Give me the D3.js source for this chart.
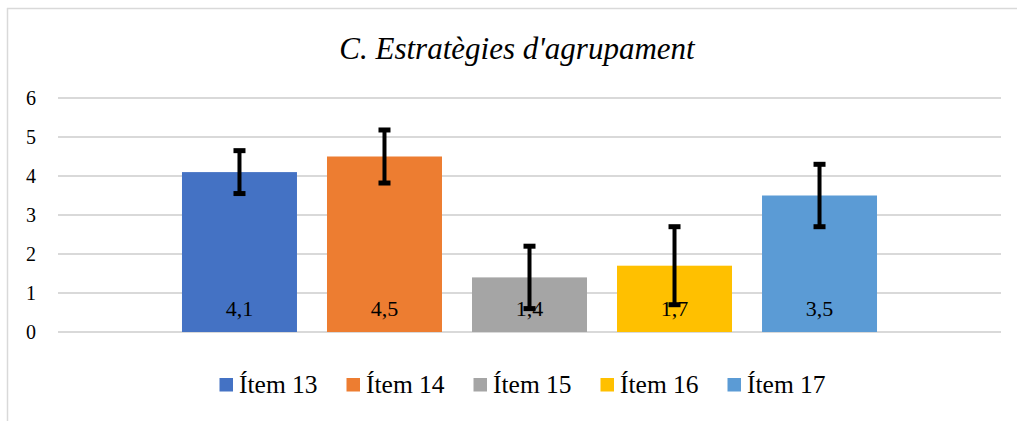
<!DOCTYPE html>
<html>
<head>
<meta charset="utf-8">
<script src="https://cdn.jsdelivr.net/npm/d3@7"></script>
<style>
  body { margin: 0; background: #fff; }
  text { font-family: "Liberation Serif", "Times New Roman", serif; fill: #000; }
</style>
</head>
<body>
<svg width="1017" height="421"></svg>
<script>
// data
var series = ["Ítem 13", "Ítem 14", "Ítem 15", "Ítem 16", "Ítem 17"];
var values = [4.1, 4.5, 1.4, 1.7, 3.5];
var errors = [0.55, 0.68, 0.8, 1.0, 0.8];
var labels = ["4,1", "4,5", "1,4", "1,7", "3,5"];
var colors = ["#4472C4", "#ED7D31", "#A5A5A5", "#FFC000", "#5B9BD5"];
var yTicks = [0, 1, 2, 3, 4, 5, 6];

var svg = d3.select("svg");

// chart border (only top and left visible)
svg.append("line").attr("x1", 7).attr("x2", 1017).attr("y1", 8.5).attr("y2", 8.5)
  .style("stroke", "#D9D9D9").style("stroke-width", 1.5);
svg.append("line").attr("x1", 7.5).attr("x2", 7.5).attr("y1", 8).attr("y2", 421)
  .style("stroke", "#D9D9D9").style("stroke-width", 1.5);

var plotL = 58, plotR = 1001, plotT = 98, plotB = 332;

var y = d3.scaleLinear().domain([0, 6]).range([plotB, plotT]);
var x = d3.scaleBand().domain(series).range([plotL, plotR])
  .paddingInner(0.207).paddingOuter(0.855);

// gridlines
svg.selectAll(".grid").data(yTicks).enter().append("line")
  .attr("x1", plotL).attr("x2", plotR)
  .attr("y1", function(d) { return y(d); })
  .attr("y2", function(d) { return y(d); })
  .style("stroke", "#D9D9D9").style("stroke-width", 2);

// y axis labels
var yAxis = svg.append("g").attr("transform", "translate(44,0)")
  .call(d3.axisLeft(y).tickValues(yTicks).tickSize(0).tickPadding(8).tickFormat(d3.format("d")));
yAxis.select(".domain").remove();
yAxis.selectAll("text").style("font-family", "Liberation Serif").style("font-size", "20px").attr("fill", "#000");

// bars
svg.selectAll(".bar").data(values).enter().append("rect")
  .attr("x", function(d, i) { return x(series[i]); })
  .attr("width", x.bandwidth())
  .attr("y", function(d) { return y(d); })
  .attr("height", function(d) { return y(0) - y(d); })
  .style("fill", function(d, i) { return colors[i]; });

// data labels (inside base)
svg.selectAll(".lbl").data(labels).enter().append("text")
  .attr("x", function(d, i) { return x(series[i]) + x.bandwidth() / 2; })
  .attr("y", plotB - 16)
  .attr("text-anchor", "middle")
  .style("font-size", "22px")
  .text(function(d) { return d; });

// error bars
var eb = svg.selectAll(".err").data(values).enter().append("g");
eb.append("line")
  .attr("x1", function(d, i) { return x(series[i]) + x.bandwidth() / 2; })
  .attr("x2", function(d, i) { return x(series[i]) + x.bandwidth() / 2; })
  .attr("y1", function(d, i) { return y(d + errors[i]); })
  .attr("y2", function(d, i) { return y(d - errors[i]); })
  .style("stroke", "#000").style("stroke-width", 4);
[1, -1].forEach(function(s) {
  eb.append("line")
    .attr("x1", function(d, i) { return x(series[i]) + x.bandwidth() / 2 - 6; })
    .attr("x2", function(d, i) { return x(series[i]) + x.bandwidth() / 2 + 6; })
    .attr("y1", function(d, i) { return y(d + s * errors[i]); })
    .attr("y2", function(d, i) { return y(d + s * errors[i]); })
    .style("stroke", "#000").style("stroke-width", 5);
});

// title
svg.append("text").attr("x", 517).attr("y", 59)
  .attr("text-anchor", "middle")
  .style("font-size", "31px").style("font-style", "italic")
  .text("C. Estratègies d'agrupament");

// legend
var lg = svg.selectAll(".lg").data(series).enter().append("g")
  .attr("transform", function(d, i) { return "translate(" + (219.5 + i * 127) + ",0)"; });
lg.append("rect").attr("x", 0).attr("y", 378).attr("width", 13.5).attr("height", 13.5)
  .style("fill", function(d, i) { return colors[i]; });
lg.append("text").attr("x", 19.5).attr("y", 393)
  .style("font-size", "25.5px")
  .text(function(d) { return d; });
</script>
</body>
</html>
